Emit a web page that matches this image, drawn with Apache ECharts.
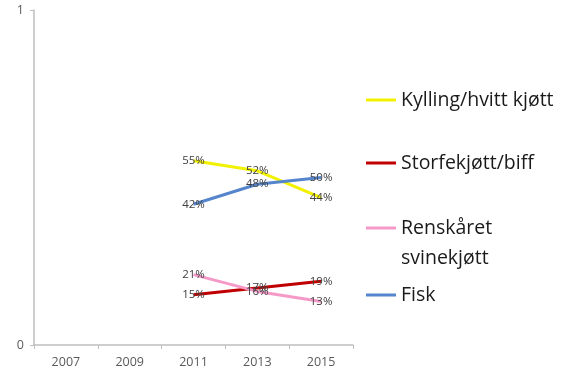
<!DOCTYPE html>
<html><head><meta charset="utf-8">
<script src="https://cdn.jsdelivr.net/npm/echarts@6/dist/echarts.min.js"></script>
<style>html,body{margin:0;padding:0;background:#fff}#c{width:584px;height:390px}</style>
</head><body><div id="c"></div>
<script>
const years = ['2007','2009','2011','2013','2015'];
const kylling = [null, null, 55, 52, 44];
const storfe = [null, null, 15, 17, 19];
const svin = [null, null, 21, 16, 13];
const fisk = [null, null, 42, 48, 50];
const names = ['Kylling/hvitt kjøtt','Storfekjøtt/biff','Renskåret\nsvinekjøtt','Fisk'];
const colors = ['#F2F200','#C00000','#F59AC8','#5585CC'];
const tops = [85, 148, 183, 280];

const font = '"Open Sans", "Noto Sans", sans-serif';
const chart = echarts.init(document.getElementById('c'));
function mk(name, data, color){
  return {name, type:'line', data: data.map(v=>v==null?null:v/100), color,
    lineStyle:{width:3,color}, itemStyle:{color}, symbol:'circle', symbolSize:0.01, showSymbol:true,
    connectNulls:false, animation:false,
    label:{show:true, position:'inside', formatter:p=>Math.round(p.value*100)+'%',
      color:'#404040', fontSize:11.5, fontFamily:font}};
}
const legends = names.map((n,i)=>({
  show:true, orient:'vertical', left:366, top:tops[i], padding:0, itemWidth:30, itemHeight:3,
  icon:'rect', data:[n], itemStyle:{color:colors[i], opacity:1, borderWidth:0},
  formatter: s => s.indexOf('\n')>=0 ? '\n'+s : s,
  textStyle:{fontSize:19.5, fontFamily:font, color:'#1a1a1a', lineHeight:30}, itemGap:0,
  selectedMode:false
}));
chart.setOption({
  animation:false,
  grid:{left:34, right:231, top:10, bottom:45},
  legend: legends,
  xAxis:{type:'category', data:years, boundaryGap:true,
    axisLine:{lineStyle:{color:'#BFBFBF', width:1.5}},
    axisTick:{show:true, alignWithLabel:false, length:4, lineStyle:{color:'#BFBFBF'}},
    axisLabel:{color:'#595959', fontSize:12.5, fontFamily:font, margin:11}},
  yAxis:{type:'value', min:0, max:1, interval:1,
    axisLine:{show:true, lineStyle:{color:'#BFBFBF', width:1.5}},
    axisTick:{show:true, length:4, lineStyle:{color:'#BFBFBF'}},
    splitLine:{show:false},
    axisLabel:{color:'#595959', fontSize:12.5, fontFamily:font, margin:10}},
  series:[mk(names[0],kylling,colors[0]), mk(names[1],storfe,colors[1]),
          mk(names[2],svin,colors[2]), mk(names[3],fisk,colors[3])]
});
</script></body></html>
